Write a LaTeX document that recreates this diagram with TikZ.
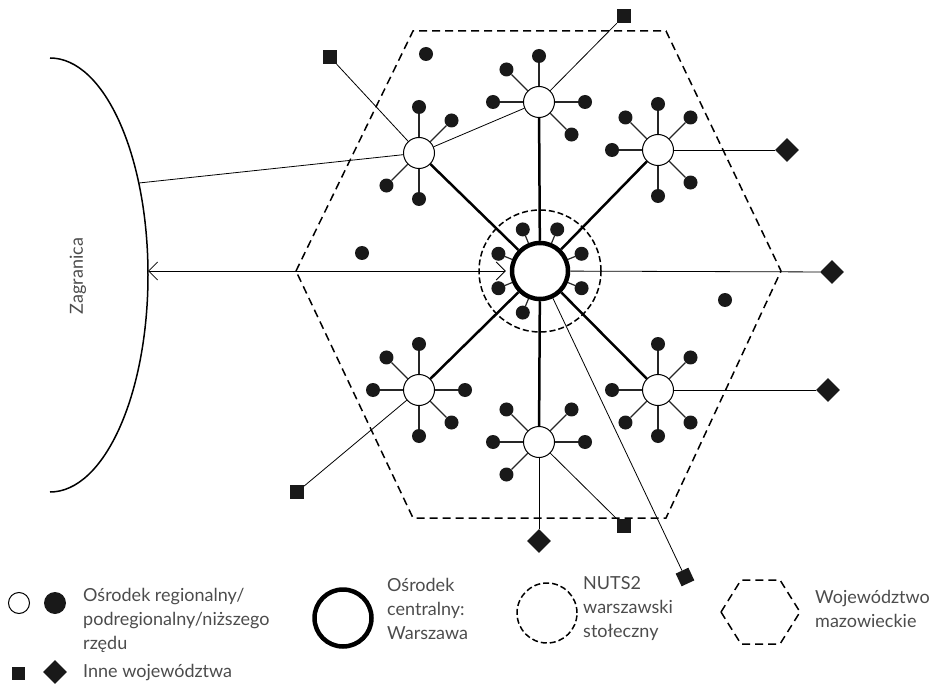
\documentclass[tikz,border=0pt]{standalone}
\usepackage{fontspec}
\setmainfont{Lato}
\usetikzlibrary{shapes.geometric,arrows.meta}

\tikzset{
  sat/.style={circle, draw, fill=white, line width=1pt, minimum size=31pt, inner sep=0pt},
  dot/.style={circle, fill=black!90, minimum size=14pt, inner sep=0pt},
  hub/.style={circle, draw, fill=white, line width=4.5pt, minimum size=56pt, inner sep=0pt},
  sq/.style={rectangle, fill=black!90, minimum size=14pt, inner sep=0pt},
  dia/.style={diamond, fill=black!90, minimum size=24pt, inner sep=0pt},
  spoke/.style={line width=1.2pt, black!85},
  trunk/.style={line width=2.5pt},
  link/.style={line width=0.8pt},
  border/.style={line width=1.5pt, dash pattern=on 8pt off 5pt},
  ring/.style={line width=1.5pt, dash pattern=on 6pt off 3pt},
  lbl/.style={text=black!70, font=\fontsize{18}{24}\selectfont, align=left, inner sep=0pt}
}

\begin{document}
\begin{tikzpicture}[x=1pt, y=-1pt]
  \useasboundingbox (0,0) rectangle (948,687);

  % zagranica
  \draw[line width=1.5pt] (50,58) arc[start angle=90, end angle=-90, x radius=98pt, y radius=217pt];
  \coordinate (z1) at (139,183);
  \coordinate (z2) at (148,271);
  \node[lbl, rotate=90] (zagr) at (78,276) {Zagranica};

  % wojewodztwo
  \draw[border] (296,271) -- (413,31) -- (666,31) -- (781,271) -- (666,518) -- (413,518) -- cycle;

  \node[hub] (hub) at (540,271) {};
  \draw[ring] (hub.center) circle[radius=61pt];
  \foreach \a [count=\i] in {22.5,67.5,112.5,157.5,202.5,247.5,337.5} {
    \node[dot] (h\i) at ([shift={(\a:45pt)}]hub.center) {};
    \draw[spoke] (hub) -- (h\i);
  }

  \foreach \n/\x/\y/\angs in {s1/539/102/{0,90,135,180,315},
                              s2/419/153/{45,90,225,270},
                              s3/658/150/{45,90,135,180,270,315},
                              s4/419/390/{0,90,135,180,270,315},
                              s5/539/442/{0,45,135,180,225},
                              s6/658/390/{45,90,180,225,270,315}} {
    \node[sat] (\n) at (\x,\y) {};
    \foreach \a in \angs {
      \node[dot] (\n-\a) at ([shift={(\a:46pt)}]\n.center) {};
      \draw[spoke] (\n) -- (\n-\a);
    }
    \draw[trunk] (hub) -- (\n);
  }

  \node[dot] (f1) at (426,54) {};
  \node[dot] (f2) at (362,253) {};
  \node[dot] (f3) at (725,300) {};

  \node[sq] (q1) at (330,57) {};
  \node[sq] (q2) at (624,16) {};
  \node[sq] (q3) at (624,526) {};
  \node[sq, rotate=25] (q4) at (685,577) {};
  \node[sq] (q5) at (297,492) {};
  \node[dia] (d1) at (787,150) {};
  \node[dia] (d2) at (832,272) {};
  \node[dia] (d3) at (828,390) {};
  \node[dia] (d4) at (539,541) {};

  \draw[link] (s2) -- (s1);
  \draw[link] (s2) -- (z1);
  \draw[link] (s2) -- (q1);
  \draw[link] (s1) -- (q2);
  \draw[link] (s3) -- (d1);
  \draw[link] (hub) -- (d2);
  \draw[link] (s6) -- (d3);
  \draw[link] (s5) -- (q3);
  \draw[link] (s5) -- (d4);
  \draw[link] (hub) -- (q4);
  \draw[link] (s4) -- (q5);
  \draw[link, {Straight Barb[length=9pt,width=18pt]}-{Straight Barb[length=9pt,width=18pt]}, shorten <=4pt] (hub) -- (z2);

  % legenda
  \node[sat, minimum size=21pt] (k1) at (19,603) {};
  \node[dot, minimum size=22pt] (k2) at (55,603) {};
  \node[lbl, anchor=west] (t1) at (83,620) {Ośrodek regionalny/\\podregionalny/niższego\\rzędu};
  \node[sq, minimum size=13pt] (k3) at (18,673) {};
  \node[dia, minimum size=24pt] (k4) at (55,672) {};
  \node[lbl, anchor=west] (t2) at (83,673) {Inne województwa};

  \node[hub, minimum size=57pt] (k5) at (343,618) {};
  \node[lbl, anchor=west] (t3) at (387,609) {Ośrodek\\centralny:\\Warszawa};
  \draw[ring] (547,613) circle[radius=30pt];
  \node[lbl, anchor=west] (t4) at (583,609) {NUTS2\\warszawski\\stołeczny};
  \draw[border] (721,612) -- (741,580) -- (780,580) -- (800,612) -- (780,644) -- (741,644) -- cycle;
  \node[lbl, anchor=west] (t5) at (815,609) {Województwo\\mazowieckie};
\end{tikzpicture}
\end{document}
